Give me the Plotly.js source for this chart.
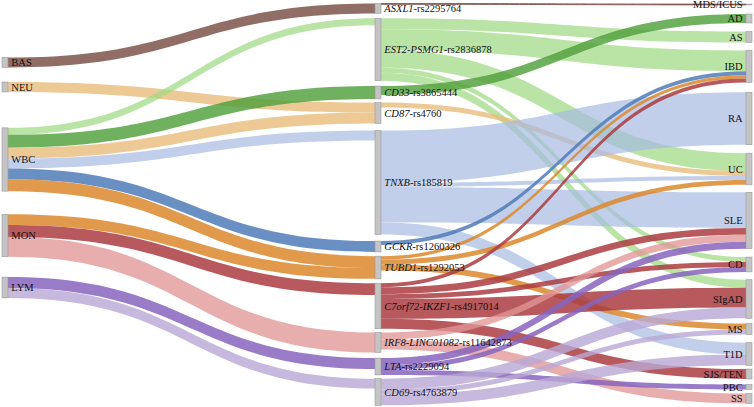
<!DOCTYPE html>
<html>
<head>
<meta charset="utf-8">
<script src="https://cdn.plot.ly/plotly-3.0.1.min.js"></script>
<style>
  html, body { margin: 0; padding: 0; background: #fff; }
  #chart { width: 754px; height: 407px; }
</style>
</head>
<body>
<div id="chart"></div>
<script>
// nodes: cell types, SNPs, diseases
var cellTypes = ['BAS', 'NEU', 'WBC', 'MON', 'LYM'];
var snps = [
  '<i>ASXL1</i>-rs2295764',
  '<i>EST2-PSMG1</i>-rs2836878',
  '<i>CD33</i>-rs3865444',
  '<i>CD87</i>-rs4760',
  '<i>TNXB</i>-rs185819',
  '<i>GCKR</i>-rs1260326',
  '<i>TUBD1</i>-rs1292053',
  '<i>C7orf72-IKZF1</i>-rs4917014',
  '<i>IRF8-LINC01082</i>-rs11642873',
  '<i>LTA</i>-rs2229094',
  '<i>CD69</i>-rs4763879'
];
var diseases = ['MDS/ICUS', 'AD', 'AS', 'IBD', 'RA', 'UC', 'SLE', 'CD',
                'SIgAD', 'MS', 'T1D', 'SJS/TEN', 'PBC', 'SS'];

// links: [from, to, value, colour]
var cellLinks = [
  ['BAS', 'ASXL1', 10, 'brown'],
  ['NEU', 'CD87', 10, 'ltorange'],
  ['WBC', 'EST2', 7, 'ltgreen'],
  ['WBC', 'CD33', 13, 'green'],
  ['WBC', 'CD87', 11, 'ltorange'],
  ['WBC', 'TNXB', 10, 'ltblue'],
  ['WBC', 'GCKR', 11, 'blue'],
  ['WBC', 'TUBD1', 12, 'orange'],
  ['MON', 'TUBD1', 11, 'orange'],
  ['MON', 'C7orf72', 12, 'red'],
  ['MON', 'IRF8', 20, 'pink'],
  ['LYM', 'LTA', 11, 'purple'],
  ['LYM', 'CD69', 10, 'ltpurple']
];
var snpLinks = [
  ['ASXL1', 'MDS/ICUS', 0.8, 'brown'],
  ['EST2', 'AS', 11, 'ltgreen'],
  ['EST2', 'IBD', 21, 'ltgreen'],
  ['EST2', 'UC', 18, 'ltgreen'],
  ['EST2', 'CD', 5, 'ltgreen'],
  ['EST2', 'SIgAD', 8, 'ltgreen'],
  ['CD33', 'AD', 9, 'green'],
  ['CD87', 'UC', 5, 'ltorange'],
  ['TNXB', 'RA', 53, 'ltblue'],
  ['TNXB', 'UC', 4, 'ltblue'],
  ['TNXB', 'SLE', 36, 'ltblue'],
  ['TNXB', 'T1D', 12, 'ltblue'],
  ['GCKR', 'IBD', 4, 'blue'],
  ['TUBD1', 'IBD', 3.5, 'orange'],
  ['TUBD1', 'UC', 5, 'orange'],
  ['TUBD1', 'MS', 6, 'orange'],
  ['C7orf72', 'IBD', 4, 'red'],
  ['C7orf72', 'SLE', 7, 'red'],
  ['C7orf72', 'CD', 5, 'red'],
  ['C7orf72', 'SIgAD', 20, 'red'],
  ['C7orf72', 'SJS/TEN', 10, 'red'],
  ['IRF8', 'SLE', 7, 'pink'],
  ['IRF8', 'SS', 10, 'pink'],
  ['LTA', 'SLE', 7, 'purple'],
  ['LTA', 'CD', 5, 'purple'],
  ['LTA', 'PBC', 5, 'purple'],
  ['CD69', 'SIgAD', 11, 'ltpurple'],
  ['CD69', 'MS', 5, 'ltpurple'],
  ['CD69', 'T1D', 11, 'ltpurple']
];

var colours = {
  brown: 'rgba(125,85,75,0.85)',
  ltgreen: 'rgba(160,218,130,0.72)',
  green: 'rgba(80,160,60,0.82)',
  ltorange: 'rgba(232,186,120,0.78)',
  ltblue: 'rgba(168,186,226,0.7)',
  blue: 'rgba(80,125,185,0.85)',
  orange: 'rgba(220,135,45,0.85)',
  red: 'rgba(170,60,65,0.85)',
  pink: 'rgba(225,150,150,0.78)',
  purple: 'rgba(135,100,190,0.85)',
  ltpurple: 'rgba(185,168,212,0.8)'
};

// node placement (fixed arrangement): column x and centre y in page px
var plotTop = 3, plotH = 402, plotL = 2, plotW = 752;
var colX = [5, 378, 749];
var cellY = [62.5, 87, 159.5, 235.5, 287.5];
var snpY = [8.5, 49.5, 92.5, 113, 182.5, 246.5, 267.5, 306, 342.5, 366.5, 392];
var diseaseY = [4.5, 18.5, 37, 66.5, 118.5, 169, 220.5, 264.5, 299, 329, 354, 374, 387, 398.5];

var labels = cellTypes.concat(snps, diseases);
function snpKey(s) {
  return s.replace(/<\/?i>/g, '').split('-')[0];
}
function idx(name) {
  var i = cellTypes.indexOf(name);
  if (i >= 0) return i;
  for (var j = 0; j < snps.length; j++) {
    if (snpKey(snps[j]) === name) return cellTypes.length + j;
  }
  return cellTypes.length + snps.length + diseases.indexOf(name);
}

var src = [], tgt = [], val = [], col = [];
cellLinks.concat(snpLinks).forEach(function (l) {
  src.push(idx(l[0]));
  tgt.push(idx(l[1]));
  val.push(l[2]);
  col.push(colours[l[3]]);
});

var nx = [], ny = [];
[cellY, snpY, diseaseY].forEach(function (ys, c) {
  ys.forEach(function (y) {
    nx.push((colX[c] - plotL) / plotW);
    ny.push((y - plotTop) / plotH);
  });
});

var data = [{
  type: 'sankey',
  orientation: 'h',
  arrangement: 'fixed',
  valueformat: '.1f',
  node: {
    label: labels,
    x: nx,
    y: ny,
    pad: 5,
    thickness: 6,
    color: '#c4c4c4',
    line: {color: '#999', width: 0.6}
  },
  link: {
    source: src,
    target: tgt,
    value: val,
    color: col
  },
  textfont: {family: 'Liberation Serif, Times New Roman, serif', size: 10.5, color: '#111', shadow: 'none'}
}];

var layout = {
  width: 754,
  height: 407,
  margin: {l: plotL, r: 0, t: plotTop, b: 2},
  paper_bgcolor: '#fff',
  font: {family: 'Liberation Serif, serif', size: 10.5}
};

Plotly.newPlot('chart', data, layout, {displayModeBar: false});
</script>
</body>
</html>
